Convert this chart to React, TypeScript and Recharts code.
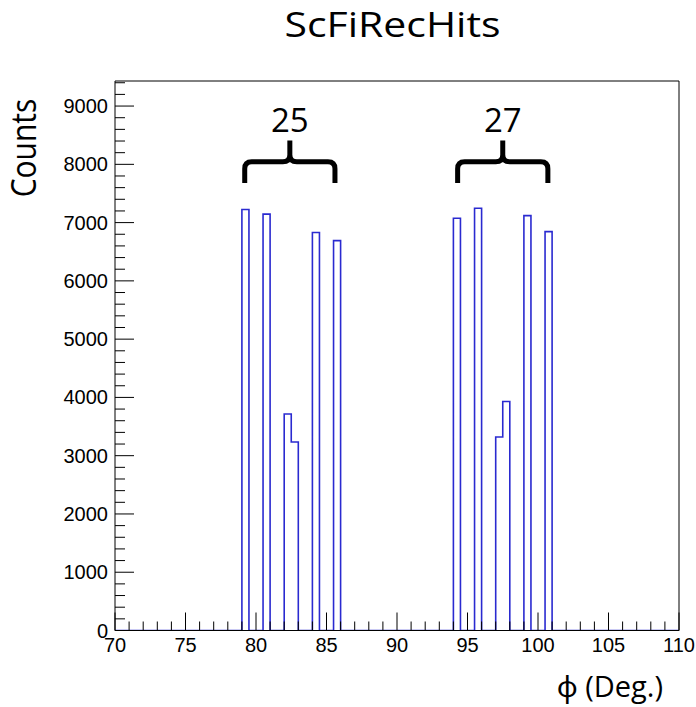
import React from 'react';
import { ComposedChart, Line, XAxis, YAxis, ReferenceArea } from 'recharts';

// histogram: 0.5 deg bins, only the filled ones listed
const binWidth = 0.5;
const binLows = [79, 80.5, 82, 82.5, 84, 85.5, 94, 95.5, 97, 97.5, 99, 100.5];
const counts = [7225, 7145, 3715, 3235, 6830, 6690, 7075, 7245, 3320, 3930, 7120, 6845];

const xMin = 70;
const xMax = 110;
const yMax = 9430;
const xMajorTicks = [70, 75, 80, 85, 90, 95, 100, 105, 110];
const yMajorTicks = [0, 1000, 2000, 3000, 4000, 5000, 6000, 7000, 8000, 9000];
const xMinorStep = 1;
const yMinorStep = 200;

const braceGroups = [
  { label: '25', from: 79.2, to: 85.6 },
  { label: '27', from: 94.3, to: 100.7 },
];
const braceLow = 7680;
const braceHigh = 8410;

const LINE = '#2a2ad0';
const TEXT_FONT = '"Open Sans", "Noto Sans", sans-serif';
const TICK_FONT = '"Liberation Sans", Arial, sans-serif';

const histData: { x: number; y: number }[] = [{ x: xMin, y: 0 }];
binLows.forEach((lo, i) => {
  histData.push({ x: lo, y: counts[i] });
  const hi = lo + binWidth;
  if (!binLows.includes(hi)) histData.push({ x: hi, y: 0 });
});
histData.push({ x: xMax, y: 0 });

const xTicks: number[] = [];
for (let v = xMin; v <= xMax; v += xMinorStep) xTicks.push(v);
const yTicks: number[] = [];
for (let v = 0; v <= yMax; v += yMinorStep) yTicks.push(v);

const XTick = (props: any) => {
  const { x, y, payload } = props;
  const major = xMajorTicks.includes(payload.value);
  return (
    <g>
      <line x1={x} x2={x} y1={y} y2={y - (major ? 18 : 9)} stroke="#000" strokeWidth={1} />
      {major && (
        <text x={x} y={y + 21} textAnchor="middle" fontSize={20} fontFamily={TICK_FONT} fill="#000">
          {payload.value}
        </text>
      )}
    </g>
  );
};

const YTick = (props: any) => {
  const { x, y, payload } = props;
  const major = yMajorTicks.includes(payload.value);
  return (
    <g>
      <line x1={x} x2={x + (major ? 19 : 10)} y1={y} y2={y} stroke="#000" strokeWidth={1} />
      {major && (
        <text x={x - 7} y={y + 7} textAnchor="end" fontSize={20} fontFamily={TICK_FONT} fill="#000">
          {payload.value}
        </text>
      )}
    </g>
  );
};

const Brace = (props: any) => {
  const { x, y, width, height, label } = props;
  const mid = x + width / 2;
  const bar = y + height * 0.5;
  const r = 7;
  const right = x + width;
  const bottom = y + height;
  const d =
    `M${x},${bottom} L${x},${bar + r} Q${x},${bar} ${x + r},${bar} L${mid - r},${bar} ` +
    `Q${mid},${bar} ${mid},${bar - r} L${mid},${y} M${mid},${bar - r} Q${mid},${bar} ${mid + r},${bar} ` +
    `L${right - r},${bar} Q${right},${bar} ${right},${bar + r} L${right},${bottom}`;
  return (
    <g>
      <path d={d} fill="none" stroke="#000" strokeWidth={5} strokeLinejoin="round" />
      <text x={mid} y={y - 8} textAnchor="middle" fontSize={33} fontFamily={TEXT_FONT} fill="#000">
        {label}
      </text>
    </g>
  );
};

export default function App() {
  return (
    <div style={{ position: 'absolute', left: 0, top: 0, width: 696, height: 707, background: '#fff' }}>
      <ComposedChart
        width={696}
        height={707}
        data={histData}
        margin={{ top: 71, right: 7, bottom: 46.5, left: 55 }}
      >
        <XAxis
          dataKey="x"
          type="number"
          domain={[xMin, xMax]}
          ticks={xTicks}
          interval={0}
          tick={<XTick />}
          tickLine={false}
          tickSize={0}
          tickMargin={0}
          height={30}
          axisLine={{ stroke: '#000' }}
          allowDataOverflow
        />
        <XAxis
          xAxisId="top"
          orientation="top"
          type="number"
          domain={[xMin, xMax]}
          tick={false}
          tickLine={false}
          height={10}
          axisLine={{ stroke: '#000' }}
        />
        <YAxis
          type="number"
          domain={[0, yMax]}
          ticks={yTicks}
          interval={0}
          tick={<YTick />}
          tickLine={false}
          tickSize={0}
          tickMargin={0}
          width={60}
          axisLine={{ stroke: '#000' }}
          allowDataOverflow
        />
        <YAxis
          yAxisId="right"
          orientation="right"
          type="number"
          domain={[0, yMax]}
          tick={false}
          tickLine={false}
          width={10}
          axisLine={{ stroke: '#000' }}
        />
        {braceGroups.map((g) => (
          <ReferenceArea
            key={g.label}
            x1={g.from}
            x2={g.to}
            y1={braceLow}
            y2={braceHigh}
            ifOverflow="visible"
            shape={(p: any) => <Brace {...p} label={g.label} />}
          />
        ))}
        <Line
          dataKey="y"
          type="stepAfter"
          stroke={LINE}
          strokeWidth={1.6}
          dot={false}
          activeDot={false}
          isAnimationActive={false}
        />
      </ComposedChart>
      <svg width={696} height={707} style={{ position: 'absolute', left: 0, top: 0, pointerEvents: 'none' }}>
        <text
          transform="translate(392.5,36.7) scale(1.17,1)"
          textAnchor="middle"
          fontSize={35}
          fontFamily={TEXT_FONT}
          fill="#000"
        >
          ScFiRecHits
        </text>
        <text
          transform="translate(36,148) rotate(-90) scale(1,1.15)"
          textAnchor="middle"
          fontSize={30}
          fontFamily={TEXT_FONT}
          fill="#000"
        >
          Counts
        </text>
        <text x={663} y={697} textAnchor="end" fontSize={29} fontFamily={TEXT_FONT} fill="#000">
          ϕ (Deg.)
        </text>
      </svg>
    </div>
  );
}
